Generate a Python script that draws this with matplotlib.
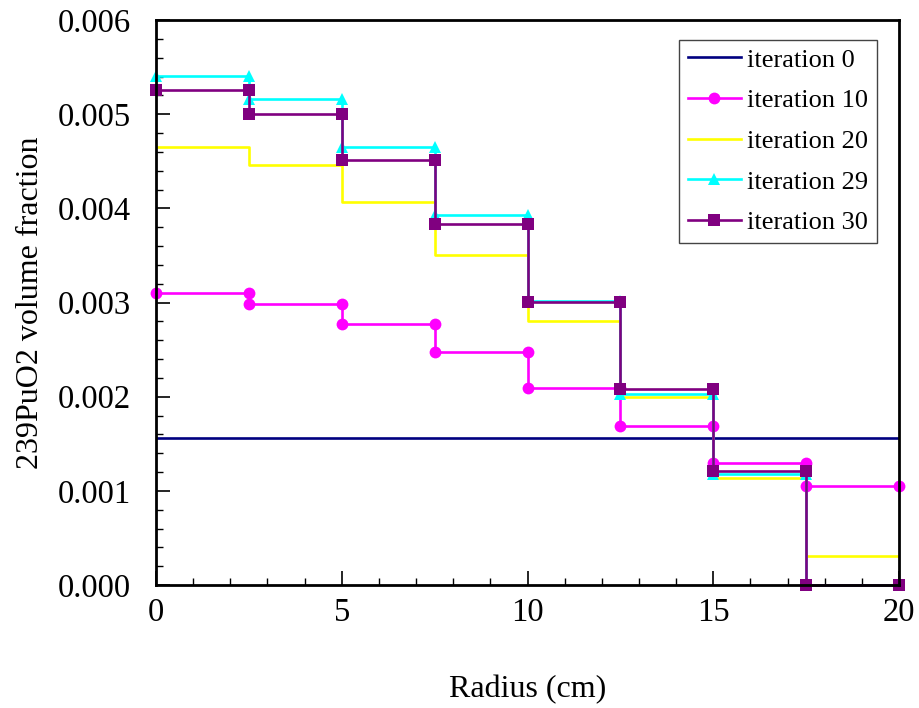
import numpy as np
import matplotlib
matplotlib.use("Agg")
import matplotlib.pyplot as plt
from matplotlib.ticker import MultipleLocator, FormatStrFormatter

plt.rcParams["font.family"] = ["Liberation Serif", "DejaVu Serif"]

# ==========================================
# Data : 239PuO2 volume fraction per radial zone
# ==========================================

edges = [0, 2.5, 5, 7.5, 10, 12.5, 15, 17.5, 20]

iter0 = [0.00156] * 8
iter10 = [0.00310, 0.00298, 0.00277, 0.00247, 0.00209, 0.00169, 0.00130, 0.00105]
iter20 = [0.00465, 0.00446, 0.00407, 0.00350, 0.00280, 0.00200, 0.00114, 0.00031]
iter29 = [0.00541, 0.00516, 0.00465, 0.00393, 0.00302, 0.00203, 0.00118, 0.0]
iter30 = [0.00526, 0.00500, 0.00451, 0.00383, 0.00301, 0.00208, 0.00121, 0.0]

labels = ["iteration 0", "iteration 10", "iteration 20", "iteration 29", "iteration 30"]
colors = ["#000080", "#FF00FF", "#FFFF00", "#00FFFF", "#800080"]
markers = [None, "o", None, "^", "s"]


def steps(vals):
    xs, ys = [], []
    for i, v in enumerate(vals):
        xs += [edges[i], edges[i + 1]]
        ys += [v, v]
    return xs, ys


fig = plt.figure(figsize=(9.2, 7.08), dpi=100)
ax = fig.add_axes([0.1696, 0.1737, 0.8076, 0.798])

for vals, lab, c, m in zip([iter0, iter10, iter20, iter29, iter30], labels, colors, markers):
    xs, ys = steps(vals)
    if m is None:
        ax.plot(xs, ys, color=c, lw=1.9, label=lab)
    else:
        ax.plot(xs, ys, color=c, lw=1.9, marker=m, markersize=8.5,
                markeredgewidth=0, label=lab, clip_on=False)

ax.set_xlim(0, 20)
ax.set_ylim(0, 0.006)

ax.xaxis.set_major_locator(MultipleLocator(5))
ax.xaxis.set_minor_locator(MultipleLocator(1))
ax.yaxis.set_major_locator(MultipleLocator(0.001))
ax.yaxis.set_minor_locator(MultipleLocator(0.0002))
ax.yaxis.set_major_formatter(FormatStrFormatter("%.3f"))

ax.tick_params(which="both", direction="in", top=False, right=False, labelsize=23.5)
ax.tick_params(which="major", length=10, width=1.2)
ax.tick_params(which="minor", length=5, width=1.0)
ax.tick_params(axis="x", pad=9)
ax.tick_params(axis="y", pad=18)

for s in ax.spines.values():
    s.set_linewidth(2)

ax.set_xlabel("Radius (cm)", fontsize=23, labelpad=34)
ax.set_ylabel("239PuO2 volume fraction", fontsize=23, labelpad=9)

leg = ax.legend(loc="upper right", bbox_to_anchor=(0.970, 0.965), borderaxespad=0,
                fontsize=19, frameon=True, fancybox=False, edgecolor="#444444",
                framealpha=1, handlelength=2.0, handletextpad=0.25, labelspacing=0.65,
                borderpad=0.32)
leg.get_frame().set_linewidth(1.0)

plt.savefig("out.png", dpi=100)
